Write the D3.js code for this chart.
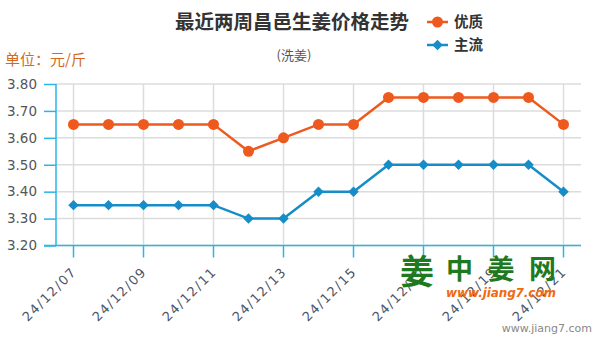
<!DOCTYPE html>
<html><head><meta charset="utf-8">
<script src="https://cdn.jsdelivr.net/npm/d3@7"></script>
<style>body{margin:0;background:#fff;}svg{display:block;font-family:"Noto Sans CJK SC","DejaVu Sans",sans-serif;}</style>
</head><body><svg id="c" width="600" height="340"></svg>
<script>
const categories = ["24/12/07","24/12/08","24/12/09","24/12/10","24/12/11","24/12/12","24/12/13","24/12/14","24/12/15","24/12/16","24/12/17","24/12/18","24/12/19","24/12/20","24/12/21"];
const youzhi = [3.65,3.65,3.65,3.65,3.65,3.55,3.60,3.65,3.65,3.75,3.75,3.75,3.75,3.75,3.65];
const zhuliu = [3.35,3.35,3.35,3.35,3.35,3.30,3.30,3.40,3.40,3.50,3.50,3.50,3.50,3.50,3.40];
const yTicks = [3.20,3.30,3.40,3.50,3.60,3.70,3.80];
const seriesNames = ["优质","主流"];
const colors = ["#ee5a1e","#168cc8"];

const svg = d3.select("#c");
const x = d3.scaleBand().domain(categories).range([56,581]).padding(0);
const y = d3.scaleLinear().domain([3.2,3.8]).range([245.5,84]);
const cx = d => x(d) + x.bandwidth()/2;
const labeled = categories.filter((d,i)=>i%2===0);
const axisColor = "#29b5e8";

// grid
svg.append("g").selectAll("line").data(yTicks).join("line")
  .attr("x1",56).attr("x2",581).attr("y1",d=>y(d)).attr("y2",d=>y(d))
  .attr("stroke","#dcdcdc").attr("stroke-width",1.5);
svg.append("g").selectAll("line").data(labeled).join("line")
  .attr("x1",d=>cx(d)).attr("x2",d=>cx(d)).attr("y1",84).attr("y2",245.5)
  .attr("stroke","#dcdcdc").attr("stroke-width",1.5);

// y axis
const ya = svg.append("g").attr("transform","translate(56,0)")
  .call(d3.axisLeft(y).tickValues(yTicks).tickFormat(d3.format(".2f")).tickSize(12).tickPadding(7));
ya.select(".domain").attr("stroke",axisColor).attr("stroke-width",1.5).attr("d","M0,84V245.5");
ya.selectAll(".tick line").attr("stroke",axisColor).attr("stroke-width",1.5);
ya.selectAll("text").attr("fill","#555").style("font-size","13.5px").style("font-family","'DejaVu Sans',sans-serif");

// x axis
const xa = svg.append("g").attr("transform","translate(0,245.5)")
  .call(d3.axisBottom(x).tickValues(labeled).tickSize(12).tickSizeOuter(0));
xa.select(".domain").attr("stroke",axisColor).attr("stroke-width",1.5).attr("d","M44,0H581");
xa.selectAll(".tick line").attr("stroke",axisColor).attr("stroke-width",1.5);
xa.selectAll("text").attr("fill","#4a5566").style("font-size","13px").style("letter-spacing","1.5px")
  .style("font-family","'DejaVu Sans',sans-serif")
  .attr("text-anchor","end").attr("x",0).attr("y",0).attr("dy","0").attr("transform","translate(4,27) rotate(-45)");

// lines
const line = d3.line().x((d,i)=>cx(categories[i])).y(d=>y(d));
[youzhi,zhuliu].forEach((data,k)=>{
  svg.append("path").datum(data).attr("d",line).attr("fill","none").attr("stroke",colors[k]).attr("stroke-width",2.5);
});
svg.append("g").selectAll("circle").data(youzhi).join("circle")
  .attr("cx",(d,i)=>cx(categories[i])).attr("cy",d=>y(d)).attr("r",5.5).attr("fill",colors[0]);
const diamond = d3.symbol().type(d3.symbolDiamond2).size(70);
svg.append("g").selectAll("path").data(zhuliu).join("path")
  .attr("d",diamond).attr("transform",(d,i)=>`translate(${cx(categories[i])},${y(d)})`).attr("fill",colors[1]);

// title
svg.append("text").attr("x",292).attr("y",29).attr("text-anchor","middle")
  .attr("fill","#333").style("font-size","19.5px").style("font-weight","bold").text("最近两周昌邑生姜价格走势");
svg.append("text").attr("x",294).attr("y",60).attr("text-anchor","middle")
  .attr("fill","#555").style("font-size","13px").text("(洗姜)");
svg.append("text").attr("x",5).attr("y",65)
  .attr("fill","#d2691e").style("font-size","15px").text("单位：元/斤");

// legend
seriesNames.forEach((n,k)=>{
  const ly = 22 + k*23;
  svg.append("line").attr("x1",427).attr("x2",448).attr("y1",ly).attr("y2",ly).attr("stroke",colors[k]).attr("stroke-width",2.5);
  if(k===0) svg.append("circle").attr("cx",437.5).attr("cy",ly).attr("r",5.5).attr("fill",colors[k]);
  else svg.append("path").attr("d",diamond).attr("transform",`translate(437.5,${ly})`).attr("fill",colors[k]);
  svg.append("text").attr("x",454).attr("y",ly+5).attr("fill","#333").style("font-size","14.5px").style("font-weight","bold").text(n);
});

// watermark
svg.append("text").attr("x",400).attr("y",284).attr("fill","#1f7a1f").style("font-size","34px").style("font-weight","bold").text("姜");
svg.append("text").attr("x",446).attr("y",279).attr("fill","#1f7a1f").style("font-size","27px").style("font-weight","bold").attr("textLength",110).text("中姜网");
svg.append("text").attr("x",446).attr("y",297).attr("fill","#f06a10").style("font-size","12px").style("font-weight","bold").style("font-style","italic").style("font-family","'DejaVu Sans',sans-serif").attr("textLength",110).text("www.jiang7.com");
svg.append("text").attr("x",592).attr("y",332).attr("text-anchor","end").attr("fill","#888").style("font-size","11px").style("font-family","'DejaVu Sans',sans-serif").text("www.jiang7.com");
</script></body></html>
